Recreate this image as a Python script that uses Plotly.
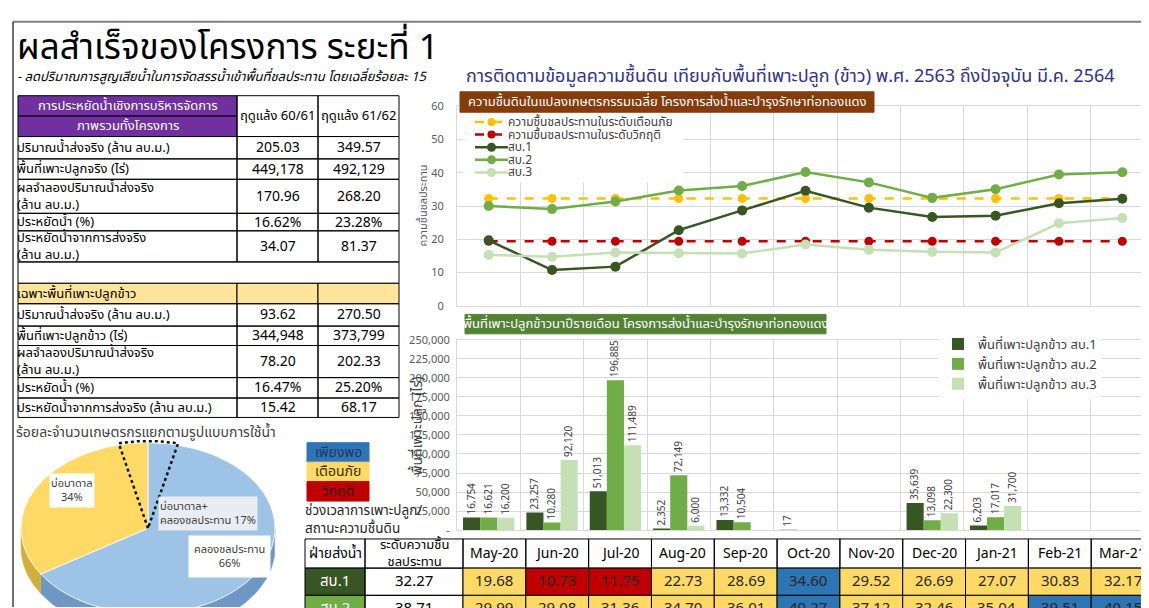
import numpy as np
import plotly.graph_objects as go

W, H = 1149, 608
FONT = "Tahoma, 'Noto Sans Thai', 'Noto Sans', sans-serif"

# ---------------- data ----------------
months = ["May-20", "Jun-20", "Jul-20", "Aug-20", "Sep-20", "Oct-20",
          "Nov-20", "Dec-20", "Jan-21", "Feb-21", "Mar-21"]
sb1_moist = [19.68, 10.73, 11.75, 22.73, 28.69, 34.60, 29.52, 26.69, 27.07, 30.83, 32.17]
sb2_moist = [29.99, 29.08, 31.36, 34.70, 36.01, 40.27, 37.12, 32.46, 35.04, 39.51, 40.15]
sb3_moist = [15.3, 14.7, 16.0, 15.8, 15.7, 18.4, 16.8, 16.2, 16.0, 24.8, 26.4]
warning_level = 32.27
critical_level = 19.36
sb1_ref = 32.27
sb2_ref = 38.71
critical_ratio = 0.6

sb1_area = [16754, 23257, 51013, 2352, 13332, 17, None, 35639, 6203, None, None]
sb2_area = [16621, 10280, 196885, 72149, 10504, None, None, 13098, 17017, None, None]
sb3_area = [16200, 92120, 111489, 6000, None, None, None, 22300, 31700, None, None]
bar_ticks = list(range(0, 250001, 25000))

line_names = ["ความชื้นชลประทานในระดับเตือนภัย", "ความชื้นชลประทานในระดับวิกฤติ",
              "สบ.1", "สบ.2", "สบ.3"]
bar_names = ["พื้นที่เพาะปลูกข้าว สบ.1", "พื้นที่เพาะปลูกข้าว สบ.2", "พื้นที่เพาะปลูกข้าว สบ.3"]

pie_labels = ["คลองชลประทาน", "บ่อบาดาล"]
pie_values = [66, 34]
overlap_label = "บ่อบาดาล+"
overlap_label2 = "คลองชลประทาน"
overlap_value = 17

season_cols = ["ฤดูแล้ง 60/61", "ฤดูแล้ง 61/62"]
total_rows = ["ปริมาณน้ำส่งจริง (ล้าน ลบ.ม.)", "พื้นที่เพาะปลูกจริง (ไร่)",
              "ผลจำลองปริมาณน้ำส่งจริง<br>(ล้าน ลบ.ม.)", "ประหยัดน้ำ (%)",
              "ประหยัดน้ำจากการส่งจริง<br>(ล้าน ลบ.ม.)"]
total_6061 = ["205.03", "449,178", "170.96", "16.62%", "34.07"]
total_6162 = ["349.57", "492,129", "268.20", "23.28%", "81.37"]
rice_rows = ["ปริมาณน้ำส่งจริง (ล้าน ลบ.ม.)", "พื้นที่เพาะปลูกข้าว (ไร่)",
             "ผลจำลองปริมาณน้ำส่งจริง<br>(ล้าน ลบ.ม.)", "ประหยัดน้ำ (%)",
             "ประหยัดน้ำจากการส่งจริง (ล้าน ลบ.ม.)"]
rice_6061 = ["93.62", "344,948", "78.20", "16.47%", "15.42"]
rice_6162 = ["270.50", "373,799", "202.33", "25.20%", "68.17"]

status_labels = ["เพียงพอ", "เตือนภัย", "วิกฤติ"]

# ---------------- styles ----------------
C_SB1, C_SB2, C_SB3 = "#375623", "#70AD47", "#C5E0B4"
C_WARN, C_CRIT = "#FFC000", "#C00000"
C_BLUE, C_YEL, C_RED = "#2E75B6", "#FFD966", "#C00000"
GRID = "#D9D9D9"
LEFT_FIX = -6  # compensates text-box padding for left-anchored Thai text

shapes, annots = [], []


def X(px):
    return px / W


def Y(py):
    return 1 - py / H


def rect(x0, y0, x1, y1, fill=None, lc="black", lw=1):
    shapes.append(dict(type="rect", xref="paper", yref="paper", x0=X(x0), x1=X(x1),
                       y0=Y(y1), y1=Y(y0), fillcolor=fill if fill else "rgba(0,0,0,0)",
                       line=dict(color=lc, width=lw), layer="above"))


def line(x0, y0, x1, y1, lc="black", lw=1):
    shapes.append(dict(type="line", xref="paper", yref="paper", x0=X(x0), x1=X(x1),
                       y0=Y(y0), y1=Y(y1), line=dict(color=lc, width=lw), layer="above"))


def txt(x, y, s, size=14, color="#000", xa="center", ya="middle", angle=0, **kw):
    if xa == "left":
        x = x + LEFT_FIX
    annots.append(dict(x=X(x), y=Y(y), xref="paper", yref="paper", text=s,
                       showarrow=False, textangle=angle,
                       font=dict(size=size, color=color, family=FONT),
                       xanchor=xa, yanchor=ya, align="left" if xa == "left" else "center", **kw))


fig = go.Figure()

# ---------------- line chart ----------------
n = len(months)
line_styles = [
    dict(color=C_WARN, dash="dash", msize=9),
    dict(color=C_CRIT, dash="dash", msize=9),
    dict(color=C_SB1, dash="solid", msize=10),
    dict(color=C_SB2, dash="solid", msize=10),
    dict(color=C_SB3, dash="solid", msize=10),
]
line_series = [[warning_level] * n, [critical_level] * n, sb1_moist, sb2_moist, sb3_moist]
for vals, nm, st in zip(line_series, line_names, line_styles):
    fig.add_trace(go.Scatter(x=months, y=vals, name=nm, mode="lines+markers",
                             line=dict(color=st["color"], width=2.5, dash=st["dash"]),
                             marker=dict(size=st["msize"]), showlegend=False,
                             xaxis="x", yaxis="y"))

# ---------------- bar chart ----------------
for vals, nm, c in [(sb1_area, bar_names[0], C_SB1), (sb2_area, bar_names[1], C_SB2),
                    (sb3_area, bar_names[2], C_SB3)]:
    fig.add_trace(go.Bar(x=months, y=vals, name=nm, marker=dict(color=c, line=dict(width=0)),
                         texttemplate="%{y:,}", textposition="outside", textangle=-90,
                         textfont=dict(size=10, color="#404040", family=FONT),
                         constraintext="none", cliponaxis=False,
                         xaxis="x2", yaxis="y2", legend="legend2"))

# ---------------- 3D-ish pie (ellipse) ----------------
RX, RY, DEPTH = 127, 88, 20
C_PIE = {"คลองชลประทาน": ("#9DC3E6", "#6F97C6"), "บ่อบาดาล": ("#FFD966", "#D4AE3C")}
start = 90.0
angles = {}
yel_span = pie_values[1] / sum(pie_values) * 360
angles["บ่อบาดาล"] = (start, start + yel_span)
angles["คลองชลประทาน"] = (start + yel_span, start + 360)


def arc(a0, a1, npts=80, dy=0.0):
    t = np.radians(np.linspace(a0, a1, npts))
    return RX * np.cos(t), RY * np.sin(t) + dy


for lab in pie_labels:
    a0, a1 = angles[lab]
    lo, hi = max(a0, 180), min(a1, 360)
    if hi > lo:
        xt, yt = arc(lo, hi)
        xb, yb = arc(hi, lo, dy=-DEPTH)
        fig.add_trace(go.Scatter(x=np.r_[xt, xb, xt[0]], y=np.r_[yt, yb, yt[0]], fill="toself",
                                 fillcolor=C_PIE[lab][1], mode="lines",
                                 line=dict(width=0.5, color=C_PIE[lab][1]),
                                 hoverinfo="skip", showlegend=False, xaxis="x3", yaxis="y3"))
for lab in pie_labels:
    a0, a1 = angles[lab]
    xa, ya = arc(a0, a1)
    fig.add_trace(go.Scatter(x=np.r_[0, xa, 0], y=np.r_[0, ya, 0], fill="toself",
                             fillcolor=C_PIE[lab][0], mode="lines",
                             line=dict(width=0.8, color="#FFFFFF"),
                             hoverinfo="skip", showlegend=False, xaxis="x3", yaxis="y3"))
OV_LEFT, OV_RIGHT = 3.7, 3.8  # percent of circle each side of the top
xo, yo = arc(start + OV_LEFT * 3.6, start - OV_RIGHT * 3.6, npts=30)
fig.add_trace(go.Scatter(x=np.r_[0, xo, 0], y=np.r_[0, yo * 1.02, 0], mode="lines",
                         line=dict(color="#111111", width=2.5, dash="dot"),
                         hoverinfo="skip", showlegend=False, xaxis="x3", yaxis="y3"))

# ---------------- compact legend for the line chart (own small axis) ----------------
LG_X0, LG_X1, LG_Y0, LG_Y1 = 455, 675, 100, 171
fig.add_trace(go.Scatter(x=[LG_X0, LG_X1, LG_X1, LG_X0, LG_X0], y=[LG_Y0, LG_Y0, LG_Y1, LG_Y1, LG_Y0],
                         fill="toself", fillcolor="white", mode="lines", line=dict(width=0),
                         hoverinfo="skip", showlegend=False, xaxis="x4", yaxis="y4"))
ROW0, ROWH = 109, 13
for i, (nm, st) in enumerate(zip(line_names, line_styles)):
    yy = ROW0 + i * ROWH
    fig.add_trace(go.Scatter(x=[467, 500], y=[yy, yy], mode="lines",
                             line=dict(color=st["color"], width=2.5, dash=st["dash"]),
                             hoverinfo="skip", showlegend=False, xaxis="x4", yaxis="y4"))
    fig.add_trace(go.Scatter(x=[483.5], y=[yy], mode="markers", marker=dict(color=st["color"], size=st["msize"] - 1),
                             hoverinfo="skip", showlegend=False, xaxis="x4", yaxis="y4"))
    txt(504, yy, nm, 12, "#404040", xa="left")

# ---------------- axes ----------------
PL, PR = 449, 1146
LT, LB = 93, 298
BT, BB = 333, 529
axis_common = dict(showgrid=True, gridcolor=GRID, gridwidth=1, zeroline=False,
                   showline=True, linecolor=GRID, mirror=True)
fig.update_layout(
    xaxis=dict(domain=[X(PL), X(PR)], anchor="y", type="category", categoryarray=months,
               tickson="boundaries", showticklabels=False, ticks="", range=[-0.5, n - 0.5],
               **axis_common),
    yaxis=dict(domain=[Y(LB), Y(LT)], anchor="x", range=[0, 60], dtick=10,
               tickfont=dict(size=11, color="#595959", family=FONT), ticklabelstandoff=10,
               **axis_common),
    xaxis2=dict(domain=[X(PL), X(PR)], anchor="y2", type="category", categoryarray=months,
                tickson="boundaries", showticklabels=False, ticks="", range=[-0.5, n - 0.5],
                **axis_common),
    yaxis2=dict(domain=[Y(BB), Y(BT)], anchor="x2", range=[0, 250000],
                tickvals=bar_ticks, ticktext=["-" if v == 0 else f"{v:,}" for v in bar_ticks],
                tickfont=dict(size=11, color="#595959", family=FONT), ticklabelstandoff=4,
                **axis_common),
    xaxis3=dict(domain=[0, X(290)], anchor="y3", range=[-140, 150], visible=False, fixedrange=True),
    yaxis3=dict(domain=[0, (608 - 432) / H], anchor="x3", range=[-81, 95], visible=False, fixedrange=True),
    xaxis4=dict(domain=[X(LG_X0), X(LG_X1)], anchor="y4", range=[LG_X0, LG_X1], visible=False,
                fixedrange=True),
    yaxis4=dict(domain=[Y(LG_Y1), Y(LG_Y0)], anchor="x4", range=[LG_Y1, LG_Y0], visible=False,
                fixedrange=True),
    barmode="group", bargap=0.19, bargroupgap=0,
    legend2=dict(x=X(930), y=Y(322), xanchor="left", yanchor="top", bgcolor="rgba(255,255,255,0.9)",
                 font=dict(size=13, color="#404040", family=FONT), tracegroupgap=0, itemwidth=30),
)

# chart title boxes
rect(452, 78, 866, 99, fill="#843C0C", lc="#843C0C")
txt(659, 88.5, "ความชื้นดินในแปลงเกษตรกรรมเฉลี่ย โครงการส่งน้ำและบำรุงรักษาท่อทองแดง", 13, "white")
rect(457, 307, 818, 327, fill="#548235", lc="#548235")
txt(637.5, 317, "พื้นที่เพาะปลูกข้าวนาปีรายเดือน โครงการส่งน้ำและบำรุงรักษาท่อทองแดง", 13, "white")
txt(416, 195, "ความชื้นชลประทาน", 11, "#595959", angle=-90)
txt(409, 422, "พื้นที่เพาะปลูก (ไร่)", 14, "#404040", angle=-90)

# ---------------- headings ----------------
line(5, 6, W, 6, lc="#7F7F7F", lw=2)
line(5, 6, 5, H, lc="#404040", lw=1.5)
txt(13, 33, "ผลสำเร็จของโครงการ ระยะที่ 1", 35, "#000000", xa="left")
txt(13, 63, "<i>- ลดปริมาณการสูญเสียน้ำในการจัดสรรน้ำเข้าพื้นที่ชลประทาน โดยเฉลี่ยร้อยละ 15</i>",
    13, "#000000", xa="left")
txt(462, 62, "การติดตามข้อมูลความชื้นดิน เทียบกับพื้นที่เพาะปลูก (ข้าว) พ.ศ. 2563 ถึงปัจจุบัน มี.ค. 2564",
    18, "#2E3192", xa="left")

# ---------------- left table ----------------
c0, c1, c2, c3 = 10, 229, 310, 391
PURPLE = "#7030A0"
LY = "#FFE59A"
TF = 13
rect(c0, 82, c1, 103, fill=PURPLE)
rect(c0, 103, c1, 124, fill=PURPLE)
rect(c1, 82, c2, 124)
rect(c2, 82, c3, 124)
txt((c0 + c1) / 2, 92.5, "การประหยัดน้ำเชิงการบริหารจัดการ", TF, "white")
txt((c0 + c1) / 2, 113.5, "ภาพรวมทั้งโครงการ", TF, "white")
txt((c1 + c2) / 2, 103, season_cols[0], TF, "#000")
txt((c2 + c3) / 2, 103, season_cols[1], TF, "#000")

top_bounds = [124, 147, 168, 203, 221, 253]
for i, lab in enumerate(total_rows):
    y0, y1 = top_bounds[i], top_bounds[i + 1]
    for a, b in [(c0, c1), (c1, c2), (c2, c3)]:
        rect(a, y0, b, y1)
    ym = (y0 + y1) / 2
    txt(c0 + 3, ym, lab, TF, "#000", xa="left")
    txt((c1 + c2) / 2, ym, total_6061[i], 14, "#000")
    txt((c2 + c3) / 2, ym, total_6162[i], 14, "#000")
rect(c0, 253, c3, 275)
rect(c0, 275, c1, 296, fill=LY)
rect(c1, 275, c2, 296, fill=LY)
rect(c2, 275, c3, 296, fill=LY)
txt(c0 + 3, 285.5, "เฉพาะพื้นที่เพาะปลูกข้าว", TF, "#000", xa="left")
rice_bounds = [296, 319, 339, 372, 393, 413]
for i, lab in enumerate(rice_rows):
    y0, y1 = rice_bounds[i], rice_bounds[i + 1]
    for a, b in [(c0, c1), (c1, c2), (c2, c3)]:
        rect(a, y0, b, y1)
    ym = (y0 + y1) / 2
    txt(c0 + 3, ym, lab, TF, "#000", xa="left")
    txt((c1 + c2) / 2, ym, rice_6061[i], 14, "#000")
    txt((c2 + c3) / 2, ym, rice_6162[i], 14, "#000")

# ---------------- pie labels ----------------
txt(12, 428, "ร้อยละจำนวนเกษตรกรแยกตามรูปแบบการใช้น้ำ", 14, "#404040", xa="left")
txt(64, 488, f"{pie_labels[1]}<br>{pie_values[1]}%", 11, "#404040", bgcolor="white")
txt(156, 512, f"{overlap_label}<br>{overlap_label2} {overlap_value}%", 11, "#404040", xa="left",
    bgcolor="rgba(242,242,242,0.9)")
txt(221, 556, f"{pie_labels[0]}<br>{pie_values[0]}%", 11, "#404040", bgcolor="white", borderpad=5)

# ---------------- status legend ----------------
status_fill = [C_BLUE, C_YEL, C_RED]
status_text = ["#1F3864", "#3A2F00", "#3A0000"]
for i, lab in enumerate(status_labels):
    y0 = 439 + i * 20
    rect(299, y0, 361, y0 + 20, fill=status_fill[i], lc=status_fill[i])
    txt(330, y0 + 10, lab, 14, status_text[i])
txt(301, 519, "ช่วงเวลาการเพาะปลูก/<br>สถานะความชื้นดิน", 13.5, "#262626", xa="left")

# ---------------- bottom table ----------------
b0, b1, b2 = 297, 357, 455
mw = (PR - b2) / n
rows_y = [538, 568, 596, 624]
rect(b0, rows_y[0], b1, rows_y[1])
rect(b1, rows_y[0], b2, rows_y[1])
txt((b0 + b1) / 2, 553, "ฝ่ายส่งน้ำ", 14, "#000")
txt((b1 + b2) / 2, 553, "ระดับความชื้น<br>ชลประทาน", 13, "#000")
for j, m in enumerate(months):
    rect(b2 + j * mw, rows_y[0], b2 + (j + 1) * mw, rows_y[1])
    txt(b2 + (j + 0.5) * mw, 553, m, 14, "#000")


def status_color(v, ref):
    if v >= ref:
        return C_BLUE
    if v < critical_ratio * ref:
        return C_RED
    return C_YEL


for r, (nm, ref, vals, col) in enumerate([("สบ.1", sb1_ref, sb1_moist, C_SB1),
                                          ("สบ.2", sb2_ref, sb2_moist, C_SB2)]):
    y0, y1 = rows_y[r + 1], rows_y[r + 2]
    ym = (y0 + y1) / 2
    rect(b0, y0, b1, y1, fill=col)
    txt((b0 + b1) / 2, ym, nm, 15, "white")
    rect(b1, y0, b2, y1)
    txt((b1 + b2) / 2, ym, f"{ref:.2f}", 15, "#000")
    for j, v in enumerate(vals):
        rect(b2 + j * mw, y0, b2 + (j + 1) * mw, y1, fill=status_color(v, ref))
        txt(b2 + (j + 0.5) * mw, ym, f"{v:.2f}", 15, "#262626")

fig.update_layout(width=W, height=H, autosize=False, margin=dict(l=0, r=0, t=0, b=0),
                  paper_bgcolor="white", plot_bgcolor="white", hovermode=False,
                  shapes=shapes, annotations=annots, font=dict(family=FONT))
fig.write_html("out.html")
